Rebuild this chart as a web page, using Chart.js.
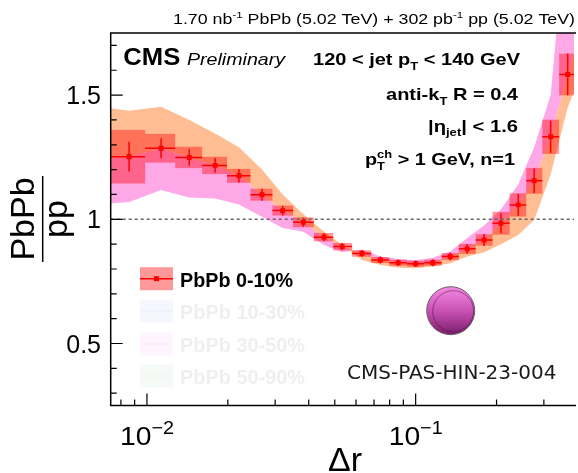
<!DOCTYPE html>
<html>
<head>
<meta charset="utf-8">
<script src="https://cdn.jsdelivr.net/npm/chart.js@4.4.1/dist/chart.umd.min.js"></script>
<style>
  html, body { margin: 0; padding: 0; background: #fff; }
  canvas { display: block; }
</style>
</head>
<body>
<canvas id="c" width="578" height="473" style="width:578px;height:473px"></canvas>
<script>
// Δr bin centres, bin edges, PbPb/pp ratio (0-10%), stat and syst errors
const deltaR = [0.00858, 0.01129, 0.01437, 0.01793, 0.0220, 0.0268, 0.0320, 0.0382, 0.0456, 0.0533, 0.0631, 0.0739,
  0.0861, 0.1000, 0.1159, 0.1345, 0.1555, 0.1798, 0.2077, 0.2408, 0.2760, 0.3180, 0.3680]
const binEdges = [0.0070, 0.00985, 0.01274, 0.01605, 0.01986, 0.02427, 0.02931, 0.03499, 0.04178, 0.04934, 0.0580,
  0.06833, 0.0798, 0.09279, 0.1076, 0.1249, 0.1447, 0.1673, 0.1932, 0.2237, 0.2579, 0.2961, 0.3420, 0.3960]
const ratio = [1.252, 1.286, 1.249, 1.217, 1.175, 1.099, 1.035, 0.988, 0.928, 0.890, 0.862, 0.836,
  0.825, 0.821, 0.825, 0.850, 0.881, 0.917, 0.984, 1.058, 1.155, 1.332, 1.583]
const statErr = [0.060, 0.040, 0.033, 0.030, 0.027, 0.024, 0.020, 0.018, 0.016, 0.015, 0.014, 0.014,
  0.013, 0.013, 0.014, 0.016, 0.020, 0.024, 0.040, 0.044, 0.050, 0.065, 0.084]
const sysErr = [0.108, 0.058, 0.043, 0.035, 0.028, 0.024, 0.020, 0.020, 0.017, 0.015, 0.013, 0.012,
  0.012, 0.012, 0.012, 0.014, 0.020, 0.023, 0.046, 0.047, 0.052, 0.069, 0.084]

// model bands: x runs from the left frame to past the right frame
const bandX = [0.00733, ...deltaR, 0.400]
const bandMid = [1.25, ...ratio, 1.72]
const orangeEdge = [1.447, 1.437, 1.453, 1.400, 1.345, 1.290, 1.200, 1.100, 1.020, 0.950, 0.897,
  0.836, 0.816, 0.805, 0.803, 0.810, 0.823, 0.850, 0.867, 0.900, 0.937, 0.997, 1.180, 1.450, 1.550]
const pinkEdge = [1.064, 1.070, 1.118, 1.088, 1.084, 1.060, 1.010, 0.965, 0.950, 0.897, 0.867,
  0.878, 0.850, 0.840, 0.835, 0.845, 0.870, 0.925, 0.975, 1.040, 1.140, 1.290, 1.500, 2.250, 2.600]

// axis ticks
const yMajor = [0.5, 1, 1.5]
const yLabels = ['0.5', '1', '1.5']
const yMinor = [0.3, 0.4, 0.6, 0.7, 0.8, 0.9, 1.1, 1.2, 1.3, 1.4, 1.6, 1.7]
const xMajor = [0.01, 0.1]
const xExponents = ['\u22122', '\u22121']
const xMinor = [0.008, 0.009, 0.02, 0.03, 0.04, 0.05, 0.06, 0.07, 0.08, 0.09, 0.2, 0.3]

// legend
const legendLabels = ['PbPb 0-10%', 'PbPb 10-30%', 'PbPb 30-50%', 'PbPb 50-90%']
const legendFills = ['rgba(255,0,0,0.4)', 'rgb(246,246,255)', 'rgb(255,244,255)', 'rgb(246,250,246)']

const SANS = '"Liberation Sans", Arial, Helvetica, sans-serif'
const pts = (xv, yv) => xv.map((x, i) => ({ x, y: yv[i] }))

// draw a run of text with sub/superscripts, optionally stretched to a width
function richText(ctx, runs, o) {
  const fam = o.family || SANS
  const st = o.style || 'normal', wt = o.weight || 'normal'
  const ss = o.supScale || 0.65
  const big = `${st} ${wt} ${o.size}px ${fam}`
  const small = `${st} ${wt} ${o.size * ss}px ${fam}`
  const widths = []
  let total = 0
  runs.forEach(r => {
    let w
    if (typeof r === 'string') {
      ctx.font = big
      w = ctx.measureText(r).width
    } else {
      ctx.font = small
      w = Math.max(r.sub ? ctx.measureText(r.sub).width : 0, r.sup ? ctx.measureText(r.sup).width : 0)
    }
    widths.push(w)
    total += w
  })
  const sx = o.width ? o.width / total : 1
  const full = total * sx
  const x0 = o.align === 'right' ? o.x - full : o.align === 'center' ? o.x - full / 2 : o.x
  ctx.save()
  ctx.translate(x0, o.y)
  ctx.scale(sx, 1)
  ctx.fillStyle = o.color || '#000'
  ctx.textAlign = 'left'
  ctx.textBaseline = 'alphabetic'
  let cx = 0
  runs.forEach((r, i) => {
    if (typeof r === 'string') {
      ctx.font = big
      ctx.fillText(r, cx, 0)
    } else {
      ctx.font = small
      if (r.sub) ctx.fillText(r.sub, cx, o.size * 0.28)
      if (r.sup) ctx.fillText(r.sup, cx, -o.size * 0.42)
    }
    cx += widths[i]
  })
  ctx.restore()
}

// syst boxes, error bars and the unity line, drawn just under the markers
const errorPlugin = {
  id: 'errors',
  beforeDatasetDraw(chart, args) {
    if (args.index !== 0) return
    const { ctx, chartArea: a } = chart
    const X = v => chart.scales.x.getPixelForValue(v)
    const Y = v => chart.scales.y.getPixelForValue(v)
    ctx.save()
    ctx.beginPath()
    ctx.rect(a.left, a.top, a.right - a.left, a.bottom - a.top)
    ctx.clip()
    ctx.fillStyle = 'rgba(255,0,0,0.4)'
    deltaR.forEach((c, i) => {
      const x0 = X(binEdges[i]), x1 = X(binEdges[i + 1])
      const y0 = Y(ratio[i] + sysErr[i]), y1 = Y(ratio[i] - sysErr[i])
      ctx.fillRect(x0, y0, x1 - x0, y1 - y0)
    })
    ctx.strokeStyle = '#ff0000'
    ctx.lineWidth = 1.5
    deltaR.forEach((c, i) => {
      ctx.beginPath()
      ctx.moveTo(X(binEdges[i]), Y(ratio[i]))
      ctx.lineTo(X(binEdges[i + 1]), Y(ratio[i]))
      ctx.moveTo(X(c), Y(ratio[i] - statErr[i]))
      ctx.lineTo(X(c), Y(ratio[i] + statErr[i]))
      ctx.stroke()
    })
    // dashed line at unity
    ctx.strokeStyle = '#666'
    ctx.lineWidth = 1.5
    ctx.setLineDash([3, 3])
    ctx.beginPath()
    ctx.moveTo(a.left, Y(1))
    ctx.lineTo(a.right, Y(1))
    ctx.stroke()
    ctx.restore()
  }
}

// ROOT-style frame, inward ticks, labels and annotations
const decorPlugin = {
  id: 'decor',
  afterDraw(chart) {
    const { ctx, chartArea: a } = chart
    const X = v => chart.scales.x.getPixelForValue(v)
    const Y = v => chart.scales.y.getPixelForValue(v)
    ctx.save()

    // frame
    ctx.strokeStyle = '#000'
    ctx.lineWidth = 1.5
    ctx.beginPath()
    ctx.moveTo(a.right + 2, a.top)
    ctx.lineTo(a.left, a.top)
    ctx.lineTo(a.left, a.bottom)
    ctx.lineTo(a.right + 2, a.bottom)
    ctx.stroke()

    // ticks
    ctx.lineWidth = 1.2
    ctx.beginPath()
    yMajor.forEach(v => { ctx.moveTo(a.left, Y(v)); ctx.lineTo(a.left + 12, Y(v)) })
    yMinor.forEach(v => { ctx.moveTo(a.left, Y(v)); ctx.lineTo(a.left + 6, Y(v)) })
    xMajor.forEach(v => { ctx.moveTo(X(v), a.bottom); ctx.lineTo(X(v), a.bottom - 12) })
    xMinor.forEach(v => { ctx.moveTo(X(v), a.bottom); ctx.lineTo(X(v), a.bottom - 6) })
    ctx.stroke()

    // tick labels
    ctx.fillStyle = '#000'
    ctx.font = `25px ${SANS}`
    ctx.textAlign = 'right'
    ctx.textBaseline = 'alphabetic'
    yMajor.forEach((v, i) => ctx.fillText(yLabels[i], 101, Y(v) + 9))
    xMajor.forEach((v, i) => {
      richText(ctx, ['10', { sup: xExponents[i] }], { x: X(v), y: 445, size: 26, align: 'center', width: 54, supScale: 0.7 })
    })

    // axis titles
    ctx.font = `34px ${SANS}`
    ctx.textAlign = 'center'
    ctx.fillText('\u0394r', 345, 471)
    ctx.save()
    ctx.translate(0, 219)
    ctx.rotate(-Math.PI / 2)
    ctx.fillText('PbPb', 0, 33.5)
    ctx.fillText('pp', 0, 67)
    ctx.lineWidth = 1.5
    ctx.beginPath()
    ctx.moveTo(-43, 42.7)
    ctx.lineTo(43, 42.7)
    ctx.stroke()
    ctx.restore()

    // luminosity line
    richText(ctx, ['1.70 nb', { sup: '-1' }, ' PbPb (5.02 TeV) + 302 pb', { sup: '-1' }, ' pp (5.02 TeV)'],
      { x: 575, y: 24, size: 15, align: 'right', width: 402 })

    // CMS label
    richText(ctx, ['CMS'], { x: 123.3, y: 65, size: 23, weight: 'bold', width: 57 })
    richText(ctx, ['Preliminary'], { x: 187, y: 65, size: 17, style: 'italic', width: 98 })

    // selection text
    const bold = { size: 17, weight: 'bold', align: 'right' }
    richText(ctx, ['120 < jet p', { sub: 'T' }, ' < 140 GeV'], { ...bold, x: 520, y: 65, width: 207 })
    richText(ctx, ['anti-k', { sub: 'T' }, ' R = 0.4'], { ...bold, x: 518, y: 100, width: 132 })
    richText(ctx, ['|\u03B7', { sub: 'jet' }, '| < 1.6'], { ...bold, x: 518, y: 131.7, width: 90 })
    richText(ctx, ['p', { sub: 'T', sup: 'ch' }, ' > 1 GeV, n=1'], { ...bold, x: 515, y: 165, width: 150 })

    // legend
    const rowY = [278.7, 311, 344, 376]
    legendLabels.forEach((lab, i) => {
      const cy = rowY[i]
      ctx.fillStyle = legendFills[i]
      ctx.fillRect(140, cy - 11.5, 33, 23)
      if (i === 0) {
        ctx.strokeStyle = '#ff0000'
        ctx.lineWidth = 1.5
        ctx.beginPath()
        ctx.moveTo(140, cy)
        ctx.lineTo(173, cy)
        ctx.stroke()
        ctx.fillStyle = '#ff0000'
        ctx.fillRect(154, cy - 2.5, 5, 5)
      } else {
        ctx.strokeStyle = 'rgba(200,200,220,0.2)'
        ctx.lineWidth = 1
        ctx.beginPath()
        ctx.moveTo(140, cy)
        ctx.lineTo(173, cy)
        ctx.stroke()
      }
      richText(ctx, [lab], { x: 180, y: cy + 8, size: 20, weight: 'bold', color: i === 0 ? '#000' : '#efefef', width: i === 0 ? 113 : 125 })
    })

    // preliminary tag
    ctx.fillStyle = '#1a1a1a'
    ctx.font = `20px "DejaVu Sans", sans-serif`
    ctx.textAlign = 'left'
    ctx.fillText('CMS-PAS-HIN-23-004', 347, 379)

    // CMS ball logo
    const bx = 450.7, by = 310.7, br = 24
    const g = ctx.createLinearGradient(bx, by - br, bx, by + br)
    g.addColorStop(0, '#f58ae2')
    g.addColorStop(0.5, '#c952b3')
    g.addColorStop(1, '#7b1d6b')
    ctx.fillStyle = g
    ctx.beginPath()
    ctx.arc(bx, by, br, 0, Math.PI * 2)
    ctx.fill()
    ctx.strokeStyle = '#6a5a68'
    ctx.lineWidth = 1
    ctx.stroke()
    ctx.strokeStyle = 'rgba(80,20,70,0.55)'
    ctx.beginPath()
    ctx.arc(bx + 2.5, by + 0.5, br - 3.5, 0, Math.PI * 2)
    ctx.stroke()

    ctx.restore()
  }
}

new Chart(document.getElementById('c'), {
  type: 'line',
  data: {
    datasets: [
      {
        label: 'PbPb 0-10%',
        data: pts(deltaR, ratio),
        showLine: false,
        pointStyle: 'rect',
        pointRadius: 3.5,
        pointBackgroundColor: '#ff0000',
        pointBorderColor: '#ff0000',
        pointBorderWidth: 0
      },
      {
        label: 'mid',
        data: pts(bandX, bandMid),
        borderColor: 'transparent',
        pointRadius: 0,
        fill: false
      },
      {
        label: 'orange band',
        data: pts(bandX, orangeEdge),
        borderColor: 'transparent',
        backgroundColor: 'rgb(255,189,148)',
        pointRadius: 0,
        fill: 1
      },
      {
        label: 'pink band',
        data: pts(bandX, pinkEdge),
        borderColor: 'transparent',
        backgroundColor: 'rgb(255,168,232)',
        pointRadius: 0,
        fill: 1
      }
    ]
  },
  options: {
    responsive: false,
    devicePixelRatio: 1,
    animation: false,
    layout: { padding: { left: 110.7, right: 0, top: 33, bottom: 67.4 } },
    plugins: { legend: { display: false }, tooltip: { enabled: false } },
    scales: {
      x: { type: 'logarithmic', min: 0.00733, max: 0.3884, display: false },
      y: { type: 'linear', min: 0.25, max: 1.75, display: false }
    }
  },
  plugins: [errorPlugin, decorPlugin]
})
</script>
</body>
</html>
